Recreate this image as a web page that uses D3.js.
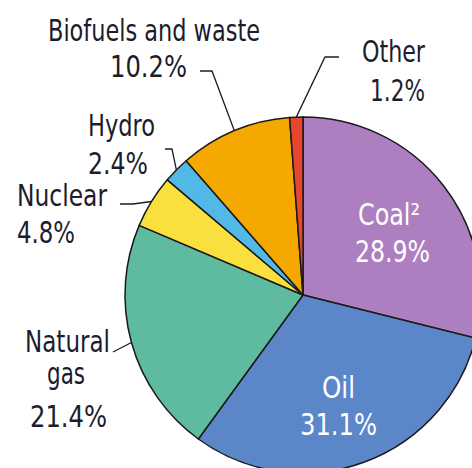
<!DOCTYPE html>
<html>
<head>
<meta charset="utf-8">
<script src="https://cdn.jsdelivr.net/npm/d3@7"></script>
<style>
  html, body { margin: 0; padding: 0; background: #ffffff; }
  svg { display: block; }
</style>
</head>
<body>
<svg id="chart" width="472" height="468"></svg>
<script>
// ---- data ----
const categories = ["Coal²", "Oil", "Natural gas", "Nuclear", "Hydro", "Biofuels and waste", "Other"];
const values = [28.9, 31.1, 21.4, 4.8, 2.4, 10.2, 1.2];
const percentLabels = ["28.9%", "31.1%", "21.4%", "4.8%", "2.4%", "10.2%", "1.2%"];
const colors = ["#ae7fc0", "#5b87c8", "#5fbb9f", "#f9e03e", "#52b8e6", "#f5a800", "#e8462f"];

// ---- layout (label placement, not data) ----
const cx = 303, cy = 295, R = 178;
const textColor = "#1c1c2c";
const fontFamily = "'DejaVu Sans Condensed', 'Liberation Sans Narrow', sans-serif";
const fontSize = 30;

// per-category label lines: [text, x (start), baseline y, width]
const labelLayout = {
  "Coal²": { inside: true, lines: [["Coal²", 358, 225, 62], ["28.9%", 355, 262, 75]] },
  "Oil": { inside: true, lines: [["Oil", 322, 398, 33], ["31.1%", 300, 435, 77]] },
  "Natural gas": { lines: [["Natural", 25, 352, 85], ["gas", 47, 384, 38], ["21.4%", 30, 427, 77]],
                   leader: [[113, 352]] },
  "Nuclear": { lines: [["Nuclear", 17, 206, 90], ["4.8%", 17, 243, 58]],
               leader: [[120, 204], [133, 204]] },
  "Hydro": { lines: [["Hydro", 88, 136, 67], ["2.4%", 88, 174, 60]],
             leader: [[165, 149], [172, 149]] },
  "Biofuels and waste": { lines: [["Biofuels and waste", 48, 41, 212], ["10.2%", 110, 77, 77]],
                          leader: [[200, 71], [212, 71]] },
  "Other": { lines: [["Other", 362, 62, 63], ["1.2%", 370, 101, 55]],
             leader: [[339, 57], [325, 57]] }
};

const svg = d3.select("#chart");
svg.append("rect").attr("width", 472).attr("height", 468).attr("fill", "#ffffff");

const pie = d3.pie().sort(null).value(d => d.value).startAngle(0).endAngle(2 * Math.PI);
const data = categories.map((c, i) => ({ name: c, value: values[i], color: colors[i], pct: percentLabels[i] }));
const arcs = pie(data);
const arc = d3.arc().innerRadius(0).outerRadius(R);

const g = svg.append("g").attr("transform", `translate(${cx},${cy})`);
g.selectAll("path.slice")
  .data(arcs)
  .join("path")
  .attr("class", "slice")
  .attr("d", arc)
  .attr("fill", d => d.data.color)
  .attr("stroke", "#1a1a1a")
  .attr("stroke-width", 1.5)
  .attr("stroke-linejoin", "round");

// leaders
const line = d3.line();
arcs.forEach(a => {
  const lay = labelLayout[a.data.name];
  if (!lay.leader) return;
  const mid = (a.startAngle + a.endAngle) / 2;
  const ex = cx + R * Math.sin(mid), ey = cy - R * Math.cos(mid);
  const pts = lay.leader.concat([[ex, ey]]);
  svg.append("path")
    .attr("d", line(pts))
    .attr("fill", "none")
    .attr("stroke", "#1c1c2c")
    .attr("stroke-width", 1.3);
});

// labels
arcs.forEach(a => {
  const lay = labelLayout[a.data.name];
  lay.lines.forEach(([txt, x, y, w]) => {
    svg.append("text")
      .attr("x", x).attr("y", y)
      .attr("font-family", fontFamily)
      .attr("font-size", fontSize)
      .attr("fill", lay.inside ? "#ffffff" : textColor)
      .attr("textLength", w)
      .attr("lengthAdjust", "spacingAndGlyphs")
      .text(txt);
  });
});
</script>
</body>
</html>
